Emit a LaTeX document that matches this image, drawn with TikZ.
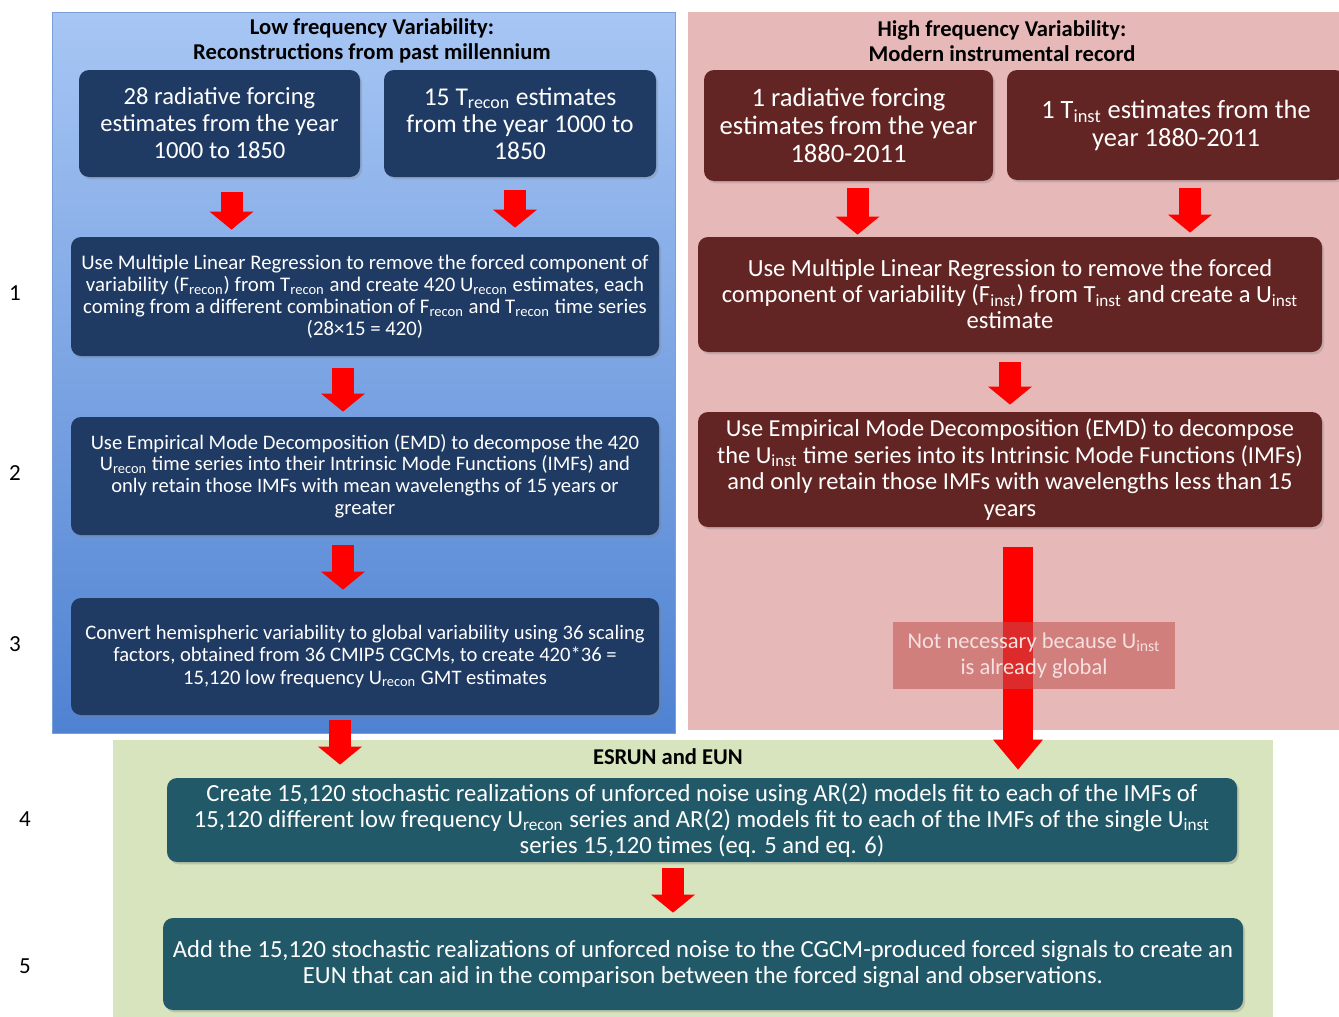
\documentclass[tikz,border=0pt]{standalone}
\usepackage{fontspec}
\setmainfont{Carlito}
\usetikzlibrary{arrows.meta,shadows}
\definecolor{navyfill}{HTML}{1F3A63}
\definecolor{maroonfill}{HTML}{632523}
\definecolor{tealfill}{HTML}{215968}
\definecolor{arrowred}{HTML}{FF0000}
\definecolor{pinkpanel}{HTML}{E6B9B8}
\definecolor{greenpanel}{HTML}{D7E4BD}
\definecolor{bluetop}{HTML}{A7C6F4}
\definecolor{bluebottom}{HTML}{4F82D2}
\definecolor{blueedge}{HTML}{7A9FD6}
\definecolor{notefill}{HTML}{C0504D}
\definecolor{notetext}{HTML}{F6E0E0}
\newcommand{\subtxt}[1]{\textsubscript{#1}}
\newcommand{\fs}[2]{\fontsize{#1}{#2}\selectfont}
\tikzset{
  flowbox/.style={rounded corners=5pt, align=center, inner sep=0pt, text=white,
    drop shadow={opacity=0.3, shadow xshift=1pt, shadow yshift=-1.2pt}},
  lowbox/.style={flowbox, fill=navyfill},
  highbox/.style={flowbox, fill=maroonfill},
  ensbox/.style={flowbox, fill=tealfill},
  notebox/.style={fill=notefill, fill opacity=0.55, text opacity=1, text=notetext,
    align=center, inner sep=0pt},
  redarrow/.style={draw=arrowred, line width=11pt,
    -{Triangle[width=22pt,length=9pt,line width=0pt]}},
  longarrow/.style={draw=arrowred, line width=15pt,
    -{Triangle[width=25pt,length=15pt,line width=0pt]}},
  paneltitle/.style={font=\bfseries\fs{11.3}{12.5}, align=center, text=black},
  rownum/.style={font=\fs{11.5}{13}}
}
\begin{document}
\begin{tikzpicture}[x=0.5pt,y=-0.5pt]
\useasboundingbox (0,0) rectangle (1339,1017);
% panels
\shadedraw[top color=bluetop, bottom color=bluebottom, draw=blueedge] (52,12) rectangle (675,733);
\fill[pinkpanel] (688,12) rectangle (1345,730);
\fill[greenpanel] (113,740) rectangle (1273,1022);
% titles
\path (372,41) node (lowtitle) [paneltitle] {Low frequency Variability:\\Reconstructions from past millennium}
(1002,41) node (hightitle) [paneltitle] {High frequency Variability:\\Modern instrumental record}
(668,757) node (enstitle) [paneltitle] {ESRUN and EUN};
% row numbers
\path (15,293) node (n1) [rownum] {1}
(15,473) node (n2) [rownum] {2}
(15,644) node (n3) [rownum] {3}
(25,819) node (n4) [rownum] {4}
(25,966) node (n5) [rownum] {5};
% low frequency
\path (219.5,123.5) node (lforc) [lowbox, minimum width=140.5pt, minimum height=53.5pt, font=\fs{12.3}{13.5}]
  {28 radiative forcing\\estimates from the year\\1000 to 1850}
(520,123.5) node (ltemp) [lowbox, minimum width=136pt, minimum height=53.5pt, font=\fs{12.8}{13.5}]
  {15 T\subtxt{recon} estimates\\from the year 1000 to\\1850}
(365,296.5) node (lmlr) [lowbox, minimum width=294pt, minimum height=59.5pt, font=\fs{10.4}{11}]
  {Use Multiple Linear Regression to remove the forced component of\\
   variability (F\subtxt{recon}) from T\subtxt{recon} and create 420 U\subtxt{recon} estimates, each\\
   coming from a different combination of F\subtxt{recon} and T\subtxt{recon} time series\\
   (28×15 = 420)}
(365,476) node (lemd) [lowbox, minimum width=294pt, minimum height=59pt, font=\fs{10.3}{10.9}]
  {Use Empirical Mode Decomposition (EMD) to decompose the 420\\
   U\subtxt{recon} time series into their Intrinsic Mode Functions (IMFs) and\\
   only retain those IMFs with mean wavelengths of 15 years or\\
   greater}
(365,656.5) node (lglob) [lowbox, minimum width=294pt, minimum height=58.5pt, font=\fs{10.3}{11}]
  {Convert hemispheric variability to global variability using 36 scaling\\
   factors, obtained from 36 CMIP5 CGCMs, to create 420*36 =\\
   15,120 low frequency U\subtxt{recon} GMT estimates};
% high frequency
\path (848.5,125.5) node (hforc) [highbox, minimum width=144.5pt, minimum height=55.5pt, font=\fs{13.3}{14}]
  {1 radiative forcing\\estimates from the year\\1880-2011}
(1176,125) node (htemp) [highbox, minimum width=169pt, minimum height=55pt, font=\fs{13.2}{14}]
  {1 T\subtxt{inst} estimates from the\\year 1880-2011}
(1010,294.5) node (hmlr) [highbox, minimum width=312pt, minimum height=57.5pt, font=\fs{12.3}{13}]
  {Use Multiple Linear Regression to remove the forced\\
   component of variability (F\subtxt{inst}) from T\subtxt{inst} and create a U\subtxt{inst}\\
   estimate}
(1010,469.5) node (hemd) [highbox, minimum width=312pt, minimum height=57.5pt, font=\fs{12.2}{13.2}]
  {Use Empirical Mode Decomposition (EMD) to decompose\\
   the U\subtxt{inst} time series into its Intrinsic Mode Functions (IMFs)\\
   and only retain those IMFs with wavelengths less than 15\\
   years};
% ensemble
\path (702,820) node (enoise) [ensbox, minimum width=535pt, minimum height=42pt, font=\fs{12.3}{13}]
  {Create 15,120 stochastic realizations of unforced noise using AR(2) models fit to each of the IMFs of\\
   15,120 different low frequency U\subtxt{recon} series and AR(2) models fit to each of the IMFs of the single U\subtxt{inst}\\
   series 15,120 times (eq. 5 and eq. 6)}
(703,964) node (eadd) [ensbox, minimum width=540pt, minimum height=46pt, font=\fs{12.3}{13}]
  {Add the 15,120 stochastic realizations of unforced noise to the CGCM-produced forced signals to create an\\
   EUN that can aid in the comparison between the forced signal and observations.};
% arrows
\draw [redarrow, shorten <=7.5pt, shorten >=3.5pt] ([xshift=6pt]lforc.south) -- ([xshift=6pt]lforc.south |- lmlr.north);
\draw [redarrow, shorten <=6.5pt, shorten >=4.5pt] ([xshift=-2.5pt]ltemp.south) -- ([xshift=-2.5pt]ltemp.south |- lmlr.north);
\draw [redarrow, shorten <=6pt, shorten >=2.5pt] ([xshift=-11pt]lmlr.south) -- ([xshift=-11pt]lmlr.south |- lemd.north);
\draw [redarrow, shorten <=5pt, shorten >=4pt] ([xshift=-11pt]lemd.south) -- ([xshift=-11pt]lemd.south |- lglob.north);
\draw [redarrow, shorten <=2.5pt, shorten >=6.5pt] ([xshift=-12.5pt]lglob.south) -- ([xshift=-12.5pt]lglob.south |- enoise.north);
\draw [redarrow, shorten <=3.5pt, shorten >=1pt] ([xshift=4.5pt]hforc.south) -- ([xshift=4.5pt]hforc.south |- hmlr.north);
\draw [redarrow, shorten <=4pt, shorten >=2pt] ([xshift=7pt]htemp.south) -- ([xshift=7pt]htemp.south |- hmlr.north);
\draw [redarrow, shorten <=5pt, shorten >=3.5pt] (hmlr.south) -- (hemd.north);
\draw [longarrow, shorten <=10pt, shorten >=4pt] ([xshift=4pt]hemd.south) -- ([xshift=4pt]hemd.south |- enoise.north);
\draw [redarrow, shorten <=3pt, shorten >=2.5pt] ([xshift=-14.5pt]enoise.south) -- ([xshift=-14.5pt]enoise.south |- eadd.north);
% note over the long arrow
\path (1034,655.5) node (hnote) [notebox, minimum width=141pt, minimum height=33.5pt, font=\fs{11.25}{13}]
  {Not necessary because U\subtxt{inst}\\is already global};
\end{tikzpicture}
\end{document}
